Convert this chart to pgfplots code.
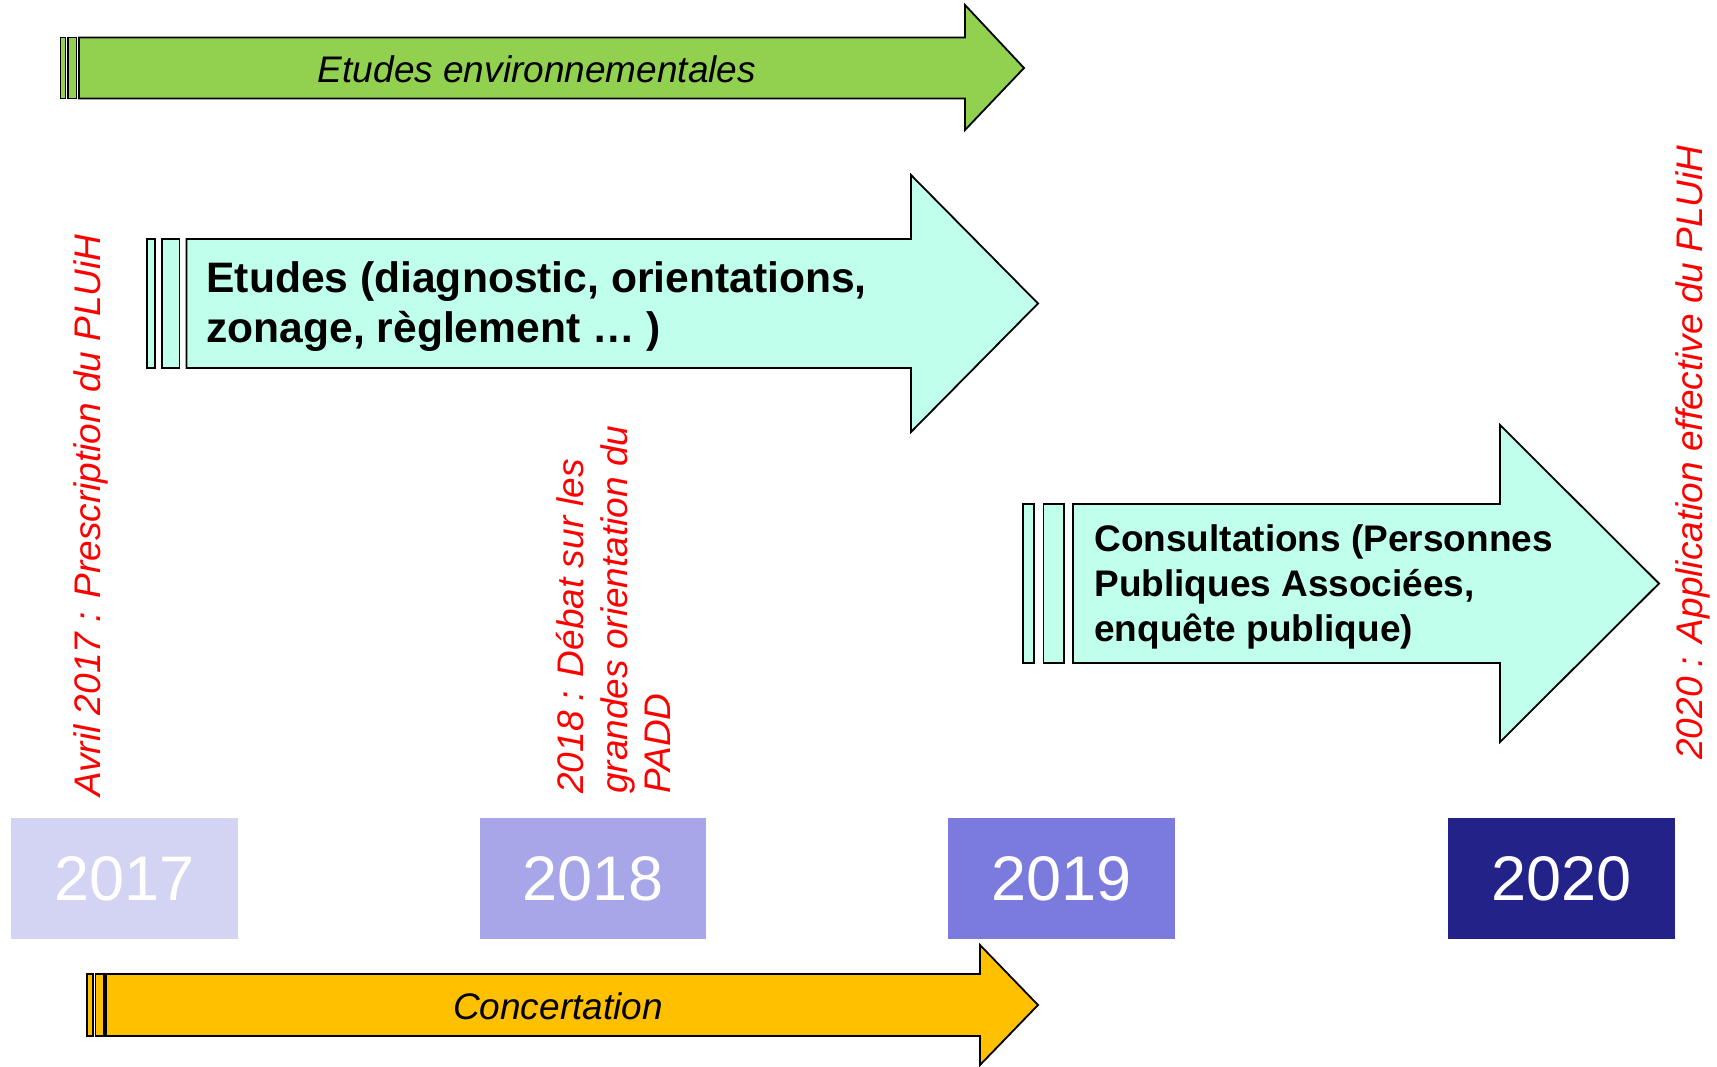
\documentclass[border=0pt]{standalone}
\usepackage{pgfplots}
\pgfplotsset{compat=1.18}
\usepackage{fontspec}
\setmainfont{Liberation Sans}
\definecolor{cgreen}{RGB}{146,208,80}
\definecolor{cteal}{RGB}{192,255,236}
\definecolor{corange}{RGB}{255,192,0}
\definecolor{y17}{RGB}{211,211,243}
\definecolor{y18}{RGB}{166,166,232}
\definecolor{y19}{RGB}{123,123,222}
\definecolor{y20}{RGB}{34,34,136}
\begin{document}
\begin{tikzpicture}
\begin{axis}[
  scale only axis, width=858.5pt, height=533pt,
  xmin=0, xmax=1717, ymin=0, ymax=1066, y dir=reverse,
  hide axis, clip=false,
  every axis plot/.append style={mark=none, line join=miter},
]
\addplot[draw=none] coordinates {(0,0) (1717,1066)};
% Year boxes
\addplot[fill=y17, draw=none] coordinates {(11,818) (238,818) (238,939) (11,939)} -- cycle;
\addplot[fill=y18, draw=none] coordinates {(480,818) (706,818) (706,939) (480,939)} -- cycle;
\addplot[fill=y19, draw=none] coordinates {(948,818) (1175,818) (1175,939) (948,939)} -- cycle;
\addplot[fill=y20, draw=none] coordinates {(1448,818) (1675,818) (1675,939) (1448,939)} -- cycle;
% Green arrow
\addplot[fill=cgreen, draw=black, line width=0.75pt] coordinates {(60.5,37.5) (65.5,37.5) (65.5,98.5) (60.5,98.5)} -- cycle;
\addplot[fill=cgreen, draw=black, line width=0.75pt] coordinates {(68,37.5) (76.5,37.5) (76.5,98.5) (68,98.5)} -- cycle;
\addplot[fill=cgreen, draw=black, line width=0.9pt] coordinates {(79,37.5) (965,37.5) (965,5) (1024,68) (965,130) (965,98.5) (79,98.5)} -- cycle;
% Teal arrow 1
\addplot[fill=cteal, draw=black, line width=0.75pt] coordinates {(147,239) (155,239) (155,368) (147,368)} -- cycle;
\addplot[fill=cteal, draw=black, line width=0.75pt] coordinates {(162,239) (179.5,239) (179.5,368) (162,368)} -- cycle;
\addplot[fill=cteal, draw=black, line width=0.9pt] coordinates {(186.5,239) (911,239) (911,175) (1038,303.5) (911,432) (911,368) (186.5,368)} -- cycle;
% Teal arrow 2
\addplot[fill=cteal, draw=black, line width=0.75pt] coordinates {(1023,504) (1034,504) (1034,663) (1023,663)} -- cycle;
\addplot[fill=cteal, draw=black, line width=0.75pt] coordinates {(1043.5,504) (1064,504) (1064,663) (1043.5,663)} -- cycle;
\addplot[fill=cteal, draw=black, line width=0.9pt] coordinates {(1073,504) (1500,504) (1500,425) (1659,583.5) (1500,742) (1500,663) (1073,663)} -- cycle;
% Orange arrow
\addplot[fill=corange, draw=black, line width=0.75pt] coordinates {(87,974) (93,974) (93,1036) (87,1036)} -- cycle;
\addplot[fill=corange, draw=black, line width=0.75pt] coordinates {(95.5,974) (104,974) (104,1036) (95.5,1036)} -- cycle;
\addplot[fill=corange, draw=black, line width=0.9pt] coordinates {(106,974) (980,974) (980,945) (1038,1005) (980,1065) (980,1036) (106,1036)} -- cycle;
% Texts
\node[anchor=base, inner sep=0, font=\itshape\fontsize{18.5}{22}\selectfont] at (axis cs:537,82) {Etudes environnementales};
\node[anchor=base, inner sep=0, font=\itshape\fontsize{18.5}{22}\selectfont] at (axis cs:558,1019) {Concertation};
\node[anchor=base west, inner sep=0, font=\bfseries\fontsize{21.3}{25}\selectfont] at (axis cs:206,292) {Etudes (diagnostic, orientations,};
\node[anchor=base west, inner sep=0, font=\bfseries\fontsize{21.3}{25}\selectfont] at (axis cs:206,342) {zonage, règlement … )};
\node[anchor=base west, inner sep=0, font=\bfseries\fontsize{18.5}{22}\selectfont] at (axis cs:1094,551) {Consultations (Personnes};
\node[anchor=base west, inner sep=0, font=\bfseries\fontsize{18.5}{22}\selectfont] at (axis cs:1094,596) {Publiques Associées,};
\node[anchor=base west, inner sep=0, font=\bfseries\fontsize{18.5}{22}\selectfont] at (axis cs:1094,641) {enquête publique)};
% Years
\node[text=white, font=\fontsize{31.5}{36}\selectfont, inner sep=0] at (axis cs:124.5,878.5) {2017};
\node[text=white, font=\fontsize{31.5}{36}\selectfont, inner sep=0] at (axis cs:593,878.5) {2018};
\node[text=white, font=\fontsize{31.5}{36}\selectfont, inner sep=0] at (axis cs:1061.5,878.5) {2019};
\node[text=white, font=\fontsize{31.5}{36}\selectfont, inner sep=0] at (axis cs:1561.5,878.5) {2020};
% Red milestones
\node[rotate=90, anchor=base west, inner sep=0, text=red, font=\itshape\fontsize{18.5}{22}\selectfont] at (axis cs:100,797) {Avril 2017 : Prescription du PLUiH};
\node[rotate=90, anchor=base west, inner sep=0, text=red, font=\itshape\fontsize{18.5}{22}\selectfont] at (axis cs:583,794) {2018 : Débat sur les};
\node[rotate=90, anchor=base west, inner sep=0, text=red, font=\itshape\fontsize{18.5}{22}\selectfont] at (axis cs:627,794) {grandes orientation du};
\node[rotate=90, anchor=base west, inner sep=0, text=red, font=\itshape\fontsize{18.5}{22}\selectfont] at (axis cs:670,794) {PADD};
\node[rotate=90, anchor=base west, inner sep=0, text=red, font=\itshape\fontsize{18.5}{22}\selectfont] at (axis cs:1702,760) {2020 : Application effective du PLUiH};
\end{axis}
\end{tikzpicture}
\end{document}
